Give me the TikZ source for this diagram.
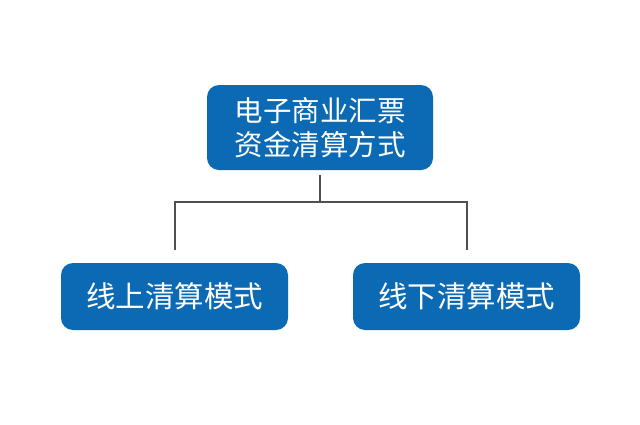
\documentclass[tikz,border=0pt]{standalone}
\usepackage{fontspec}
\newfontfamily\cjk{Noto Sans CJK SC}
\usetikzlibrary{positioning}
\definecolor{boxblue}{HTML}{0B6AB3}
\definecolor{linegray}{HTML}{505050}

\begin{document}
\begin{tikzpicture}[x=1pt,y=-1pt,
    box/.style={rounded corners=12pt,fill=boxblue,text=white,inner sep=0pt,
      align=center,font=\cjk\fontsize{28.5}{34}\selectfont},
    leaf/.style={box,minimum width=227pt,minimum height=67pt,
      font=\cjk\fontsize{29.5}{34}\selectfont},
    link/.style={draw=linegray,line width=2pt}
    ]

    \useasboundingbox (0,0) rectangle (640,424);

    \node (top) [box,minimum width=226pt,minimum height=85pt] at (320,127.5) {电子商业汇票\\资金清算方式};

    \node (online) [leaf] at (174.5,296.5) {线上清算模式};
    \node (offline) [leaf] at (466.5,296.5) {线下清算模式};

    \coordinate (split) at (320,202);
    \draw[link,shorten <=5pt] (top.south) -- (split);
    \draw[link,shorten >=13pt] (split) -| (online.north);
    \draw[link,shorten >=13pt] (split) -| (offline.north);

  \end{tikzpicture}
\end{document}
